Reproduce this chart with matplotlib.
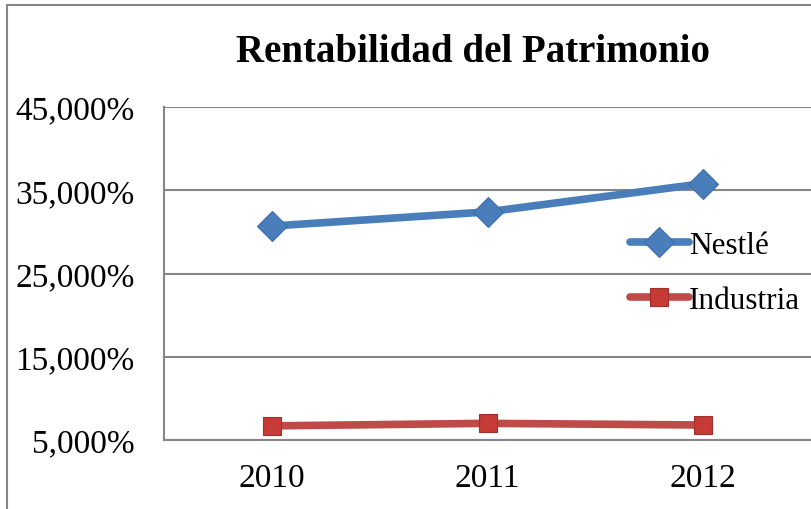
import matplotlib
matplotlib.use("Agg")
import matplotlib.pyplot as plt
from matplotlib.patches import Rectangle
from matplotlib.ticker import FuncFormatter

# ---- data ----
years = ["2010", "2011", "2012"]
nestle = [30.7, 32.4, 35.8]
industria = [6.7, 7.0, 6.8]
y_ticks = [5, 15, 25, 35, 45]

BLUE = "#4A7EBB"
RED = "#BE4B48"
GRID = "#868686"

plt.rcParams["font.family"] = ["Liberation Serif", "DejaVu Serif"]

fig = plt.figure(figsize=(8.11, 5.10), dpi=100)
ax = fig.add_axes([164 / 811, 1 - 441 / 510, 647 / 811, 333 / 510])

x = range(len(years))
ax.plot(x, nestle, color=BLUE, lw=5.5, marker="D", ms=15,
        markeredgecolor="#3A6EAB", markeredgewidth=0.8, label="Nestlé",
        solid_capstyle="round", zorder=3)
ax.plot(x, industria, color=RED, lw=5.5, marker="s", ms=13,
        markerfacecolor="#C63B35", markeredgecolor="#A0302C",
        markeredgewidth=0.8, label="Industria", solid_capstyle="round",
        zorder=3)

ax.set_xlim(-0.5, 2.5)
ax.set_ylim(5, 45)
ax.set_xticks(list(x))
ax.set_xticklabels(years)
ax.set_yticks(y_ticks)
ax.yaxis.set_major_formatter(FuncFormatter(lambda v, p: f"{int(v)},000%"))
ax.tick_params(axis="both", length=0, labelsize=24, colors="black")
ax.tick_params(axis="y", pad=21)
ax.tick_params(axis="x", pad=16)

ax.grid(axis="y", color=GRID, lw=1.5)
ax.set_axisbelow(True)
for side in ["top", "right"]:
    ax.spines[side].set_visible(False)
for side in ["left", "bottom"]:
    ax.spines[side].set_color(GRID)
    ax.spines[side].set_linewidth(1.5)

leg = fig.legend(loc="center left", bbox_to_anchor=(614 / 811, 1 - 274 / 510),
                 frameon=False, fontsize=22.5, handlelength=1.9,
                 handletextpad=0.0, labelspacing=0.85, borderpad=0)

fig.text(473 / 811, 1 - 52 / 510, "Rentabilidad del Patrimonio",
         ha="center", va="center", fontsize=28, fontweight="bold")

# outer chart border
fig.patches.append(Rectangle((7 / 811, -0.1), 2, 0.1 + 1 - 6 / 510,
                             transform=fig.transFigure, fill=False,
                             edgecolor=GRID, lw=1.5))

fig.savefig("out.png", dpi=100)
